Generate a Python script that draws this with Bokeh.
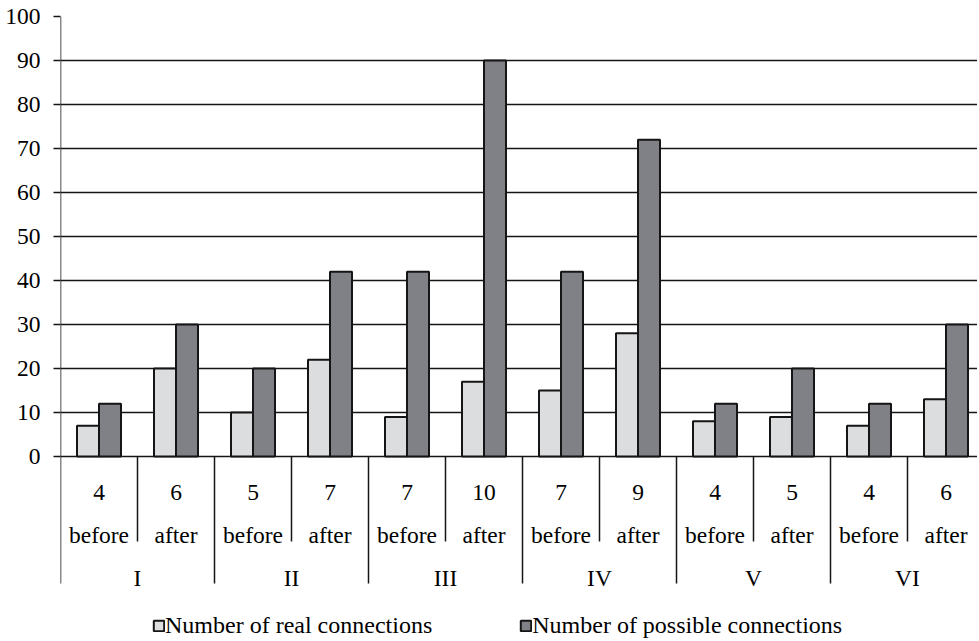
import numpy as np
from bokeh.plotting import figure
from bokeh.models import Range1d, FixedTicker, Legend, LegendItem
from bokeh.core.properties import value
from bokeh.embed import file_html
from bokeh.resources import INLINE

# ---- data ----
groups = ["I", "II", "III", "IV", "V", "VI"]
phases = ["before", "after"]
nodes = [4, 6, 5, 7, 7, 10, 7, 9, 4, 5, 4, 6]
real_connections = [7, 20, 10, 22, 9, 17, 15, 28, 8, 9, 7, 13]
possible_connections = [12, 30, 20, 42, 42, 90, 42, 72, 12, 20, 12, 30]
y_ticks = list(range(0, 101, 10))

# ---- style ----
FONT = "'Liberation Serif', 'Times New Roman', serif"
FS = "23.5px"
FS_LEG = "24px"
LIGHT = "#DCDDDF"
DARK = "#808187"
EDGE = "#151515"
FIG_W, FIG_H = 977, 639
LEFT, TOP = 60, 16          # frame offset inside the figure
ZERO_Y = 456                # pixel row of value 0
PX_PER_UNIT = (ZERO_Y - TOP) / 100.0
SLOT_PX = 77                # horizontal pixels per category slot
FRAME_W = FIG_W - LEFT
FRAME_H = FIG_H - TOP

n = len(nodes)
slot = np.arange(n) + 0.5
bar_w = 22 / SLOT_PX

p = figure(width=FIG_W, height=FIG_H, output_backend="svg", toolbar_location=None,
           x_range=Range1d(0, FRAME_W / SLOT_PX),
           y_range=Range1d(100 - FRAME_H / PX_PER_UNIT, 100),
           x_axis_location=None,
           min_border_left=LEFT, min_border_right=0, min_border_top=TOP, min_border_bottom=0)
p.outline_line_color = None
p.background_fill_color = "white"
p.border_fill_color = "white"

ax = p.yaxis[0]
ax.ticker = FixedTicker(ticks=y_ticks)
ax.axis_line_color = None
ax.major_tick_out = 7
ax.major_tick_in = 0
ax.minor_tick_line_color = None
ax.major_tick_line_color = EDGE
ax.major_tick_line_width = 1.5
ax.major_label_standoff = 13
ax.major_label_text_font = FONT
ax.major_label_text_font_size = FS
ax.major_label_text_color = "black"

p.xgrid.visible = False
p.ygrid.ticker = FixedTicker(ticks=y_ticks)
p.ygrid.grid_line_color = EDGE
p.ygrid.grid_line_width = 1.5

r1 = p.vbar(x=slot - bar_w / 2, top=real_connections, bottom=0, width=bar_w,
            fill_color=LIGHT, line_color=EDGE, line_width=2)
r2 = p.vbar(x=slot + bar_w / 2, top=possible_connections, bottom=0, width=bar_w,
            fill_color=DARK, line_color=EDGE, line_width=2)

# ---- multi-level category axis drawn below ----
def py(page_y):
    return (ZERO_Y - page_y) / PX_PER_UNIT

xs, y0s, y1s = [], [], []
for b in range(0, n + 1):
    xs.append(b)
    y0s.append(100 if b == 0 else 0)
    y1s.append(py(583) if b % 2 == 0 else py(541))
p.segment(x0=xs, y0=y0s, x1=xs, y1=y1s, line_color=EDGE, line_width=1.5)

txt = dict(text_font=value(FONT), text_font_size=FS, text_color="black",
           text_align="center", text_baseline="alphabetic")
p.text(x=slot, y=[py(492)] * n, text=[str(v) for v in nodes], **txt)
p.text(x=slot, y=[py(534)] * n, text=[phases[i % 2] for i in range(n)], **txt)
gx = np.arange(len(groups)) * 2 + 1.0
p.text(x=gx, y=[py(577)] * len(groups), text=groups, **txt)

legend = Legend(items=[LegendItem(label="Number of real connections", renderers=[r1]),
                       LegendItem(label="Number of possible connections", renderers=[r2])],
                location=(92, 0), orientation="horizontal",
                glyph_width=13, glyph_height=13, label_height=13,
                label_standoff=0, spacing=87, padding=0, margin=0,
                border_line_color=None, background_fill_alpha=0,
                label_text_font=FONT, label_text_font_size=FS_LEG,
                label_text_color="black")
p.add_layout(legend, "center")

open("out.html", "w").write(file_html(p, INLINE))
